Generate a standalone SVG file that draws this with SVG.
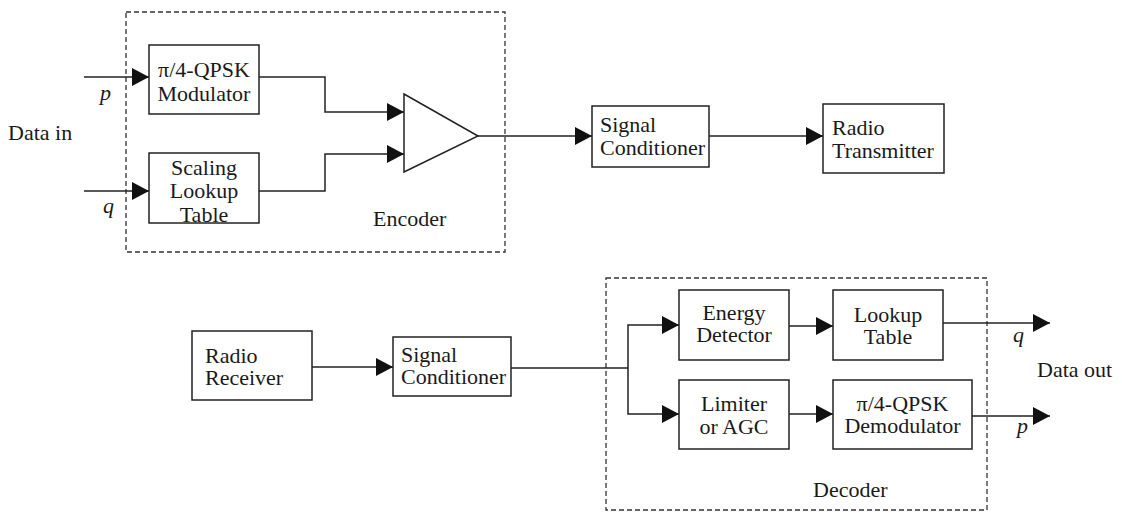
<svg xmlns="http://www.w3.org/2000/svg" width="1122" height="513" viewBox="0 0 1122 513">
<style>
text{font-family:"Liberation Serif","Times New Roman",serif;font-size:22px;fill:#1a1a1a}
.c{text-anchor:middle}
.i{font-style:italic}
.box{fill:none;stroke:#222;stroke-width:1.5}
.dash{fill:none;stroke:#333;stroke-width:1.3;stroke-dasharray:5 3}
.ln{fill:none;stroke:#222;stroke-width:1.5}
</style>
<defs>
<marker id="ah" markerUnits="userSpaceOnUse" markerWidth="18" markerHeight="18" refX="17" refY="9" orient="auto">
<path d="M0,0 L17,9 L0,18 Z" fill="#111"/>
</marker>
</defs>
<rect width="1122" height="513" fill="#fff"/>

<g id="encoder">
<rect class="dash" x="126" y="12" width="379" height="240"/>
<text x="373" y="226">Encoder</text>
</g>
<g id="decoder">
<rect class="dash" x="606" y="278" width="381" height="232"/>
<text x="813" y="497">Decoder</text>
</g>

<g id="labels">
<text x="8" y="140">Data in</text>
<text class="i" x="100" y="100">p</text>
<text class="i" x="103" y="213">q</text>
<text x="1037" y="377">Data out</text>
<text class="i" x="1013" y="342">q</text>
<text class="i" x="1017" y="433">p</text>
</g>

<g id="modulator">
<rect class="box" x="149" y="45" width="110" height="69"/>
<text class="c" x="204" y="77">π/4-QPSK</text>
<text class="c" x="204" y="101">Modulator</text>
</g>
<g id="scaling">
<rect class="box" x="149" y="153" width="110" height="70"/>
<text class="c" x="204" y="175">Scaling</text>
<text class="c" x="204" y="198">Lookup</text>
<text class="c" x="204" y="222">Table</text>
</g>
<g id="amplifier">
<polygon class="box" points="404,94 478,136 404,172"/>
</g>
<g id="sigcond1">
<rect class="box" x="592" y="106" width="117" height="61"/>
<text x="600" y="132">Signal</text>
<text x="600" y="155">Conditioner</text>
</g>
<g id="transmitter">
<rect class="box" x="823" y="104" width="121" height="69"/>
<text x="832" y="135">Radio</text>
<text x="832" y="158">Transmitter</text>
</g>
<g id="receiver">
<rect class="box" x="192" y="331" width="120" height="69"/>
<text x="205" y="363">Radio</text>
<text x="205" y="385">Receiver</text>
</g>
<g id="sigcond2">
<rect class="box" x="393" y="337" width="118" height="59"/>
<text x="401" y="362">Signal</text>
<text x="401" y="384">Conditioner</text>
</g>
<g id="energy">
<rect class="box" x="679" y="290" width="110" height="70"/>
<text class="c" x="734" y="320">Energy</text>
<text class="c" x="734" y="342">Detector</text>
</g>
<g id="limiter">
<rect class="box" x="679" y="380" width="110" height="69"/>
<text class="c" x="734" y="411">Limiter</text>
<text class="c" x="734" y="434">or AGC</text>
</g>
<g id="lookup">
<rect class="box" x="833" y="290" width="110" height="70"/>
<text class="c" x="888" y="322">Lookup</text>
<text class="c" x="888" y="344">Table</text>
</g>
<g id="demod">
<rect class="box" x="833" y="380" width="139" height="69"/>
<text class="c" x="902.5" y="411">π/4-QPSK</text>
<text class="c" x="902.5" y="433">Demodulator</text>
</g>

<g id="connectors">
<line class="ln" x1="84" y1="77" x2="149" y2="77" marker-end="url(#ah)"/>
<line class="ln" x1="84" y1="191" x2="149" y2="191" marker-end="url(#ah)"/>
<polyline class="ln" points="259,77 325,77 325,112 404,112" marker-end="url(#ah)"/>
<polyline class="ln" points="259,191 325,191 325,154 404,154" marker-end="url(#ah)"/>
<line class="ln" x1="478" y1="136" x2="592" y2="136" marker-end="url(#ah)"/>
<line class="ln" x1="709" y1="136" x2="823" y2="136" marker-end="url(#ah)"/>
<line class="ln" x1="312" y1="367" x2="393" y2="367" marker-end="url(#ah)"/>
<polyline class="ln" points="511,368 628,368"/>
<polyline class="ln" points="628,368 628,325 679,325" marker-end="url(#ah)"/>
<polyline class="ln" points="628,368 628,414 679,414" marker-end="url(#ah)"/>
<line class="ln" x1="789" y1="326" x2="833" y2="326" marker-end="url(#ah)"/>
<line class="ln" x1="789" y1="414" x2="833" y2="414" marker-end="url(#ah)"/>
<line class="ln" x1="943" y1="323" x2="1050" y2="323" marker-end="url(#ah)"/>
<line class="ln" x1="972" y1="416" x2="1050" y2="416" marker-end="url(#ah)"/>
</g>
</svg>
